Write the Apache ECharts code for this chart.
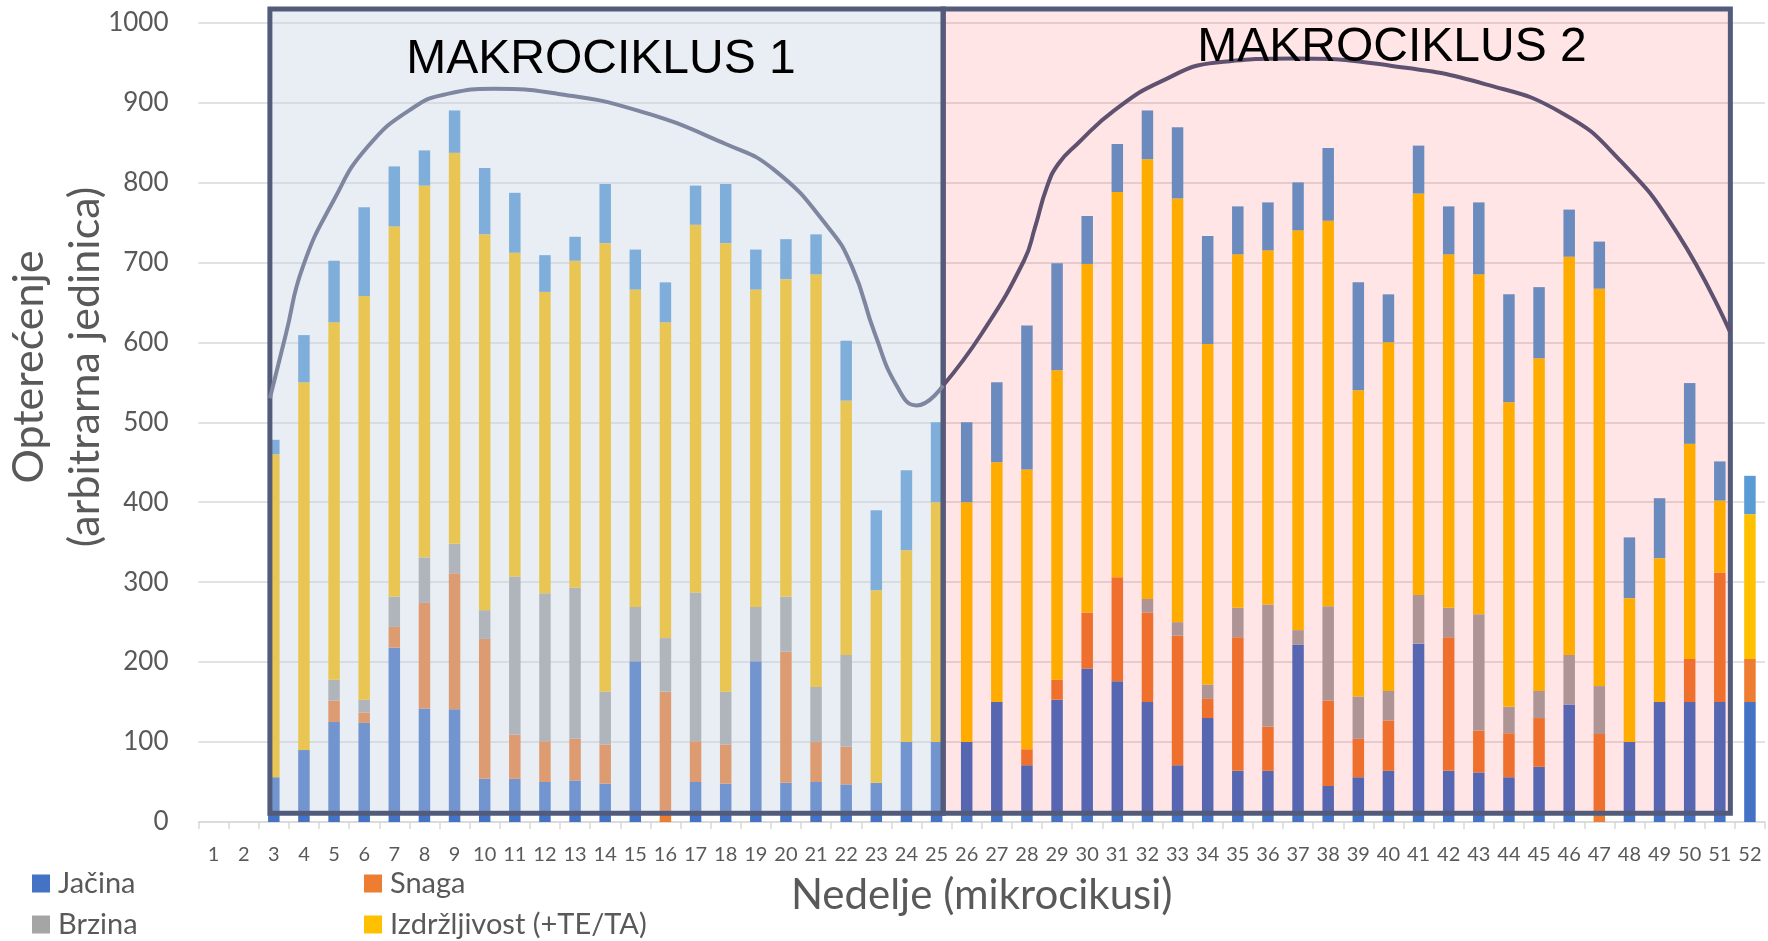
<!DOCTYPE html>
<html>
<head>
<meta charset="utf-8">
<script src="https://cdn.jsdelivr.net/npm/echarts@6/dist/echarts.min.js"></script>
<style>
html, body { margin: 0; padding: 0; background: #fff; }
#main { width: 1768px; height: 941px; }
</style>
</head>
<body>
<div id="main"></div>
<script>
// nedelje (mikrociklusi)
var weeks = ['1','2','3','4','5','6','7','8','9','10','11','12','13','14','15','16','17','18','19','20',
  '21','22','23','24','25','26','27','28','29','30','31','32','33','34','35','36','37','38','39','40',
  '41','42','43','44','45','46','47','48','49','50','51','52']
var yTicks = [0, 100, 200, 300, 400, 500, 600, 700, 800, 900, 1000]

// opterecenje po komponentama (od dna ka vrhu)
var jacina = ['-','-',56,90,125,124,218,142,141,54,54,50,52,48,201,0,50,48,201,49,50,47,49,100,100,
  100,150,71,153,192,176,150,71,130,64,64,222,45,56,64,223,64,62,56,69,147,0,100,150,150,150,150]
var snaga = ['-','-',0,0,27,13,26,132,170,175,55,51,52,49,0,163,51,49,0,164,50,47,0,0,0,
  0,0,20,25,70,130,112,162,24,167,55,0,107,48,63,0,167,52,55,61,0,110,0,0,54,162,54]
var brzina = ['-','-',0,0,26,16,38,57,37,36,198,185,189,66,68,67,186,66,68,69,69,115,0,0,0,
  0,0,0,0,0,0,17,17,18,37,153,18,118,53,37,61,37,146,33,34,62,60,0,0,0,0,0]
var izdrzljivost = ['-','-',404,460,447,505,463,465,489,470,405,377,409,561,397,395,460,561,397,397,516,318,241,240,300,
  300,300,350,387,436,482,550,530,426,442,443,500,482,383,436,502,442,425,381,416,498,497,180,180,269,90,181]
var ostalo = ['-','-',18,59,77,111,75,44,53,83,75,46,30,74,50,50,49,74,50,50,50,75,100,100,100,
  100,100,180,134,60,60,61,89,135,60,60,60,91,135,60,60,60,90,135,89,59,59,76,75,76,49,48]

// trend krive makrociklusa [nedelja, opterecenje]
var curve1 = [[2.87,530],[3.4,610],[3.96,694],[4.98,777],[6.1,844],[7.65,894],[8.8,911],[10.3,917],
  [12.4,911],[15.06,890],[18.0,848],[19.63,815],[21.4,744],[22.2,694],[22.95,611],[23.7,544],[24.34,521],[25.22,546]]
var curve2 = [[25.22,546],[26.5,611],[27.9,702],[28.27,744],[28.66,794],[29.04,823],[29.67,848],[30.9,890],
  [32.44,926],[34.3,950],[36.9,955],[40.07,946],[43.2,923],[45.8,886],[47.7,827],[49.6,736],[51.35,612]]

// okviri makrociklusa [od nedelje, do nedelje, od, do]
var macroBoxes = [[2.87, 25.22, 11, 1017], [25.22, 51.35, 11, 1017]]
var macroLabels = [['MAKROCIKLUS 1', 13.86, 954], ['MAKROCIKLUS 2', 40.12, 969]]

var boxFills = ['rgba(195,208,227,0.365)', 'rgba(255,0,0,0.1)']
var gray = '#595959'

var chart = echarts.init(document.getElementById('main'))

function barSeries(name, data, color) {
  return {
    name: name,
    type: 'bar',
    stack: 'total',
    barWidth: 11.5,
    data: data,
    itemStyle: { color: color },
    z: 2,
  }
}

var option = {
  animation: false,
  textStyle: { fontFamily: 'Lato' },
  grid: { left: 198.5, right: 3, top: 22.5, bottom: 119, outerBoundsMode: 'none', containLabel: false },
  // naslov y ose
  graphic: [
    {
      type: 'text',
      x: 57,
      y: 367,
      rotation: Math.PI / 2,
      style: {
        text: 'Opterećenje\n(arbitrarna jedinica)',
        fontFamily: 'Lato',
        fontSize: 43,
        lineHeight: 56,
        fill: gray,
        align: 'center',
        verticalAlign: 'middle',
      },
    },
  ],
  legend: {
    data: ['Jačina', 'Snaga', 'Brzina', 'Izdržljivost (+TE/TA)'],
    left: 27,
    top: 863,
    width: 700,
    orient: 'horizontal',
    icon: 'rect',
    itemWidth: 18,
    itemHeight: 18,
    itemGap: 10,
    textStyle: { fontSize: 29, color: gray, width: 296, lineHeight: 31, padding: [0, 0, 0, 3] },
  },
  xAxis: [
    {
      type: 'category',
      data: weeks,
      name: 'Nedelje (mikrocikusi)',
      nameLocation: 'middle',
      nameGap: 52,
      nameTextStyle: { fontSize: 42, color: gray },
      axisLine: { show: true, lineStyle: { color: '#D9D9D9', width: 1.5 } },
      axisTick: { show: true, length: 7, lineStyle: { color: '#D9D9D9', width: 1.5 } },
      axisLabel: { color: gray, fontSize: 20, margin: 23, interval: 0 },
    },
    { type: 'value', min: 0.5, max: 52.5, show: false },
  ],
  yAxis: {
    type: 'value',
    min: yTicks[0],
    max: yTicks[yTicks.length - 1],
    interval: 100,
    axisLine: { show: false },
    axisTick: { show: false },
    axisLabel: { color: gray, fontSize: 26, margin: 30, formatter: function (v) { return String(v) } },
    splitLine: { lineStyle: { color: '#D9D9D9', width: 1.5 } },
  },
  series: [
    barSeries('Jačina', jacina, '#4472C4'),
    barSeries('Snaga', snaga, '#ED7D31'),
    barSeries('Brzina', brzina, '#A5A5A5'),
    barSeries('Izdržljivost (+TE/TA)', izdrzljivost, '#FFC000'),
    barSeries('Ostalo', ostalo, '#5B9BD5'),
    {
      type: 'custom',
      xAxisIndex: 1,
      z: 3,
      silent: true,
      data: macroBoxes,
      renderItem: function (params, api) {
        var p0 = api.coord([api.value(0), api.value(3)])
        var p1 = api.coord([api.value(1), api.value(2)])
        return {
          type: 'rect',
          shape: { x: p0[0], y: p0[1], width: p1[0] - p0[0], height: p1[1] - p0[1] },
          style: { fill: boxFills[params.dataIndex], stroke: '#535B7B', lineWidth: 5 },
        }
      },
    },
    {
      type: 'line',
      xAxisIndex: 1,
      data: curve1,
      smooth: true,
      symbol: 'none',
      z: 4,
      silent: true,
      lineStyle: { color: '#7F86A0', width: 4 },
    },
    {
      type: 'line',
      xAxisIndex: 1,
      data: curve2,
      smooth: true,
      symbol: 'none',
      z: 4,
      silent: true,
      lineStyle: { color: '#5F5270', width: 4 },
    },
    {
      type: 'custom',
      xAxisIndex: 1,
      z: 5,
      silent: true,
      data: macroLabels.map(function (d) { return [d[1], d[2]] }),
      renderItem: function (params, api) {
        var p = api.coord([api.value(0), api.value(1)])
        return {
          type: 'text',
          style: {
            text: macroLabels[params.dataIndex][0],
            x: p[0],
            y: p[1],
            align: 'center',
            verticalAlign: 'middle',
            fontSize: 48,
            fontFamily: 'Liberation Sans',
            fill: '#000',
          },
        }
      },
    },
  ],
}

chart.setOption(option)
</script>
</body>
</html>
